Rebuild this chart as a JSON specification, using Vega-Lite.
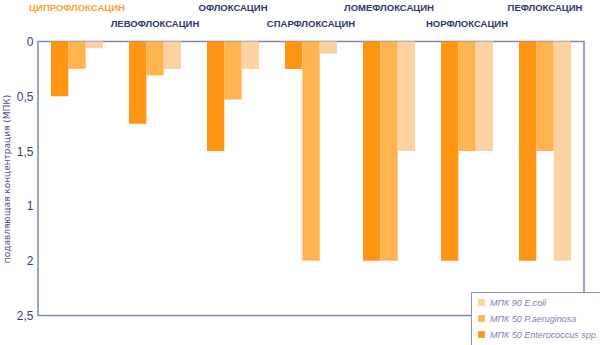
{
  "$schema": "https://vega.github.io/schema/vega-lite/v6.json",
  "width": 546,
  "height": 274,
  "autosize": {"type": "none"},
  "padding": {"left": 38, "top": 41.5, "right": 16, "bottom": 29.5},
  "background": "white",
  "config": {
    "view": {"stroke": "#7f86b6", "strokeWidth": 1.5},
    "font": "Liberation Sans"
  },
  "data": {
    "values": [
      {"drug": "ЦИПРОФЛОКСАЦИН", "series": "МПК 50 Enterococcus spp.", "mic": 0.5},
      {"drug": "ЦИПРОФЛОКСАЦИН", "series": "МПК 50 P.aeruginosa", "mic": 0.25},
      {"drug": "ЦИПРОФЛОКСАЦИН", "series": "МПК 90  E.coli", "mic": 0.06},
      {"drug": "ЛЕВОФЛОКСАЦИН", "series": "МПК 50 Enterococcus spp.", "mic": 0.75},
      {"drug": "ЛЕВОФЛОКСАЦИН", "series": "МПК 50 P.aeruginosa", "mic": 0.31},
      {"drug": "ЛЕВОФЛОКСАЦИН", "series": "МПК 90  E.coli", "mic": 0.25},
      {"drug": "ОФЛОКСАЦИН", "series": "МПК 50 Enterococcus spp.", "mic": 1.0},
      {"drug": "ОФЛОКСАЦИН", "series": "МПК 50 P.aeruginosa", "mic": 0.53},
      {"drug": "ОФЛОКСАЦИН", "series": "МПК 90  E.coli", "mic": 0.25},
      {"drug": "СПАРФЛОКСАЦИН", "series": "МПК 50 Enterococcus spp.", "mic": 0.25},
      {"drug": "СПАРФЛОКСАЦИН", "series": "МПК 50 P.aeruginosa", "mic": 2.0},
      {"drug": "СПАРФЛОКСАЦИН", "series": "МПК 90  E.coli", "mic": 0.11},
      {"drug": "ЛОМЕФЛОКСАЦИН", "series": "МПК 50 Enterococcus spp.", "mic": 2.0},
      {"drug": "ЛОМЕФЛОКСАЦИН", "series": "МПК 50 P.aeruginosa", "mic": 2.0},
      {"drug": "ЛОМЕФЛОКСАЦИН", "series": "МПК 90  E.coli", "mic": 1.0},
      {"drug": "НОРФЛОКСАЦИН", "series": "МПК 50 Enterococcus spp.", "mic": 2.0},
      {"drug": "НОРФЛОКСАЦИН", "series": "МПК 50 P.aeruginosa", "mic": 1.0},
      {"drug": "НОРФЛОКСАЦИН", "series": "МПК 90  E.coli", "mic": 1.0},
      {"drug": "ПЕФЛОКСАЦИН", "series": "МПК 50 Enterococcus spp.", "mic": 2.0},
      {"drug": "ПЕФЛОКСАЦИН", "series": "МПК 50 P.aeruginosa", "mic": 1.0},
      {"drug": "ПЕФЛОКСАЦИН", "series": "МПК 90  E.coli", "mic": 2.0}
    ]
  },
  "mark": {"type": "bar"},
  "encoding": {
    "x": {
      "field": "drug",
      "type": "nominal",
      "sort": ["ЦИПРОФЛОКСАЦИН", "ЛЕВОФЛОКСАЦИН", "ОФЛОКСАЦИН", "СПАРФЛОКСАЦИН", "ЛОМЕФЛОКСАЦИН", "НОРФЛОКСАЦИН", "ПЕФЛОКСАЦИН"],
      "scale": {"paddingInner": 0.3333, "paddingOuter": 0.1667},
      "axis": {
        "orient": "top",
        "title": null,
        "domain": false,
        "ticks": false,
        "labelAngle": 0,
        "labelFont": "Liberation Sans",
        "labelFontWeight": "bold",
        "labelFontSize": 9.5,
        "labelBaseline": "alphabetic",
        "labelColor": {
          "condition": {"test": "datum.value == 'ЦИПРОФЛОКСАЦИН'", "value": "#FFA02E"},
          "value": "#2f3672"
        },
        "labelPadding": {
          "condition": {"test": "indexof(['ЛЕВОФЛОКСАЦИН','СПАРФЛОКСАЦИН','НОРФЛОКСАЦИН'], datum.value) >= 0", "value": 15},
          "value": 31
        }
      }
    },
    "xOffset": {
      "field": "series",
      "type": "nominal",
      "sort": ["МПК 50 Enterococcus spp.", "МПК 50 P.aeruginosa", "МПК 90  E.coli"],
      "scale": {"paddingInner": 0, "paddingOuter": 0}
    },
    "y": {
      "field": "mic",
      "type": "quantitative",
      "scale": {"domain": [0, 2.5], "reverse": true, "nice": false},
      "axis": {
        "title": "подавляющая концентрация (МПК)",
        "titleFont": "DejaVu Sans",
        "titleFontSize": 9,
        "titleFontWeight": "normal",
        "titleColor": "#4a5088",
        "titlePadding": 5,
        "values": [0, 0.5, 1, 1.5, 2, 2.5],
        "labelExpr": "['0','0,5','1,5','1','2','2,5'][round(datum.value*2)]",
        "labelFont": "Liberation Sans",
        "labelFontSize": 12,
        "labelColor": "#3b4178",
        "labelPadding": 5,
        "ticks": false,
        "domain": false,
        "grid": false
      }
    },
    "color": {
      "field": "series",
      "type": "nominal",
      "scale": {
        "domain": ["МПК 90  E.coli", "МПК 50 P.aeruginosa", "МПК 50 Enterococcus spp."],
        "range": ["#FDD2A2", "#FFB451", "#FF9515"]
      },
      "legend": {
        "orient": "none",
        "legendX": 433,
        "legendY": 250.5,
        "title": null,
        "fillColor": "white",
        "strokeColor": "#8a90bb",
        "padding": 6,
        "rowPadding": 6,
        "symbolType": "square",
        "symbolSize": 45,
        "symbolOpacity": 1,
        "symbolStrokeWidth": 0,
        "labelFont": "Liberation Sans",
        "labelFontStyle": "italic",
        "labelFontSize": 9,
        "labelColor": "#7d84ac",
        "labelOffset": 4
      }
    }
  }
}
